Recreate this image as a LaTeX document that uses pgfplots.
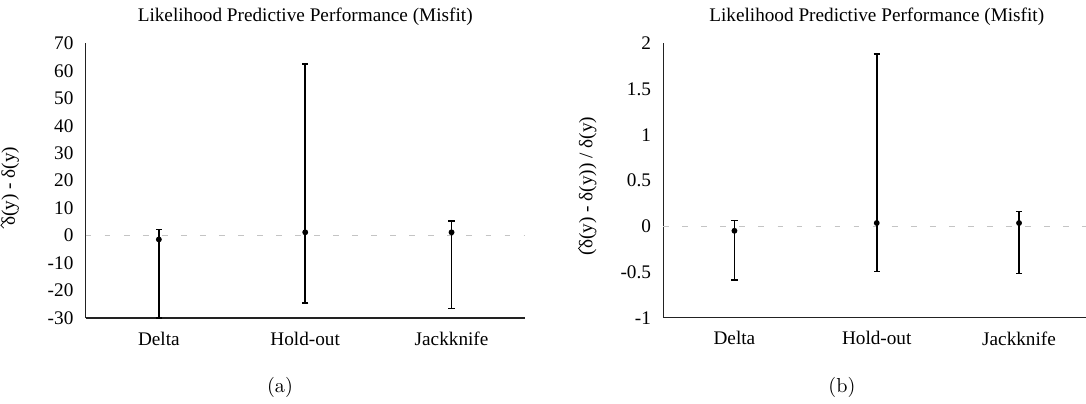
\documentclass[border=0pt]{standalone}
\usepackage{fontspec}
\setmainfont{Liberation Serif}
\newfontfamily\lmfont{Latin Modern Roman}
\usepackage{pgfplots}
\usepackage{pgfplotstable}
\pgfplotsset{compat=1.18}
\definecolor{zerogray}{HTML}{C4C4C4}
\definecolor{axgray}{HTML}{222222}
\newcommand\dhat{\rlap{\tikz[baseline=0pt]{\useasboundingbox (0,0) rectangle (0.01em,0.1em);\draw[line width=0.4pt, line cap=round, line join=miter] (-0.12em,0.58em) -- (0.02em,0.72em) -- (0.16em,0.58em);}}δ}

\pgfplotstableread{
x y ep em
0 -1.4 3.55 28.6
1 1.2 61.3 25.7
2 1.2 4.2 27.8
}\tabA
\pgfplotstableread{
x y ep em
0 -0.05 0.115 0.54
1 0.035 1.848 0.532
2 0.035 0.127 0.554
}\tabB

\pgfplotsset{
  panel/.style={
    scale only axis,
    axis x line=bottom, axis y line=left,
    axis line style={-, axgray, line width=0.6pt},
    xmin=-0.5, xmax=2.5,
    xtick={0,1,2}, xticklabels={Delta,Hold-out,Jackknife},
    major tick length=0pt,
    clip=false,
    font=\fontsize{10}{12}\selectfont,
    /pgf/number format/assume math mode=true,
    yticklabel style={anchor=east, inner sep=0pt, xshift=-6.2pt},
    xticklabel style={anchor=north, inner sep=0pt, yshift=-7pt},
    every axis title shift=0pt,
    title style={at={(axis description cs:0.5,1)}, anchor=base, yshift=11.2pt, inner sep=0pt},
    every axis y label/.style={at={(axis description cs:0,0.48)}, xshift=-39.3pt, anchor=center, rotate=90},
    title={Likelihood Predictive Performance (Misfit)},
  },
  ebar/.style={black, line width=0.8pt, only marks, mark=*, mark size=1.1pt,
    error bars/.cd, y dir=both, y explicit,
    error bar style={line width=0.8pt, black},
    error mark options={rotate=90, mark size=1.6pt, line width=0.8pt, black}},
  zline/.style={zerogray, line width=0.6pt, dash pattern=on 3pt off 6.9pt, forget plot}
}

\begin{document}
\begin{tikzpicture}
\begin{axis}[panel,
  at={(44.56pt,44.2pt)}, anchor=south west,
  width=228.3pt, height=142.8pt,
  ymin=-30, ymax=70,
  ytick={-30,-20,-10,0,10,20,30,40,50,60,70},
  yticklabels={-30,-20,-10,0,10,20,30,40,50,60,70},
  ylabel={\dhat(y) - δ(y)},
]
\addplot[zline] coordinates {(-0.5,0) (2.5,0)};
\addplot[ebar] table[x=x, y=y, y error plus=ep, y error minus=em] {\tabA};
\end{axis}

\begin{axis}[panel,
  at={(344.9pt,44.36pt)}, anchor=south west,
  width=222.0pt, height=142.7pt,
  ymin=-1, ymax=2,
  ytick={-1,-0.5,0,0.5,1,1.5,2},
  yticklabels={-1,-0.5,0,0.5,1,1.5,2},
  ylabel={(\dhat(y) - δ(y)) / δ(y)},
]
\addplot[zline] coordinates {(-0.5,0) (2.5,0)};
\addplot[ebar] table[x=x, y=y, y error plus=ep, y error minus=em] {\tabB};
\end{axis}

\node[font=\lmfont\fontsize{10.5}{12}\selectfont, anchor=center] at (145.6pt,8.3pt) {(a)};
\node[font=\lmfont\fontsize{10.5}{12}\selectfont, anchor=center] at (437.8pt,8.3pt) {(b)};

\pgfresetboundingbox
\path[use as bounding box] (0,0) rectangle (564.72pt,209.56pt);
\end{tikzpicture}
\end{document}
